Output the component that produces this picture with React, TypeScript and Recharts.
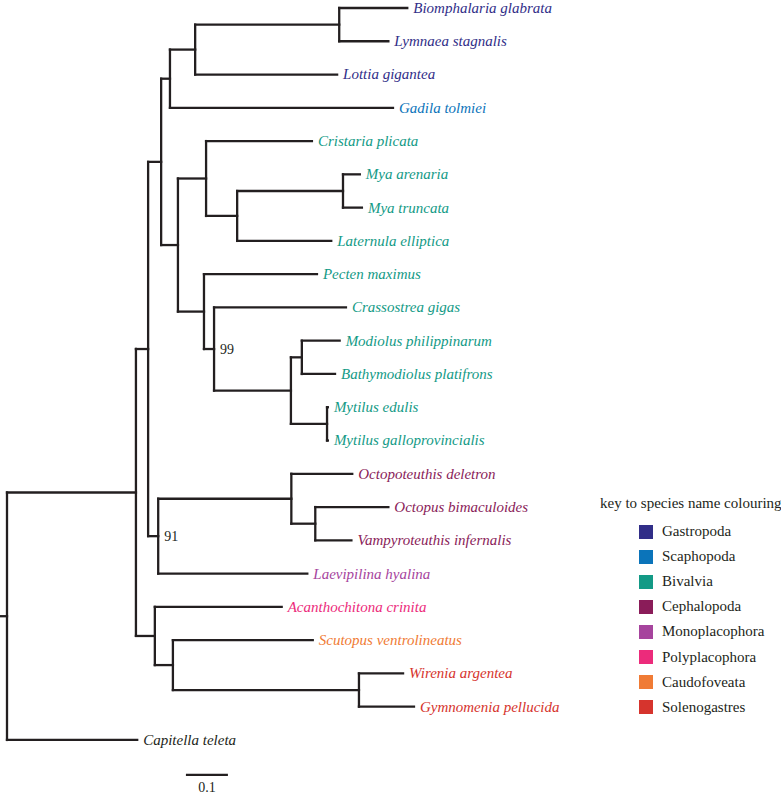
import { ComposedChart, XAxis, YAxis, ReferenceLine, Scatter } from "recharts";

// tips, top to bottom
const species = [
  "Biomphalaria glabrata",
  "Lymnaea stagnalis",
  "Lottia gigantea",
  "Gadila tolmiei",
  "Cristaria plicata",
  "Mya arenaria",
  "Mya truncata",
  "Laternula elliptica",
  "Pecten maximus",
  "Crassostrea gigas",
  "Modiolus philippinarum",
  "Bathymodiolus platifrons",
  "Mytilus edulis",
  "Mytilus galloprovincialis",
  "Octopoteuthis deletron",
  "Octopus bimaculoides",
  "Vampyroteuthis infernalis",
  "Laevipilina hyalina",
  "Acanthochitona crinita",
  "Scutopus ventrolineatus",
  "Wirenia argentea",
  "Gymnomenia pellucida",
  "Capitella teleta",
];
const speciesGroup = [0, 0, 0, 1, 2, 2, 2, 2, 2, 2, 2, 2, 2, 2, 3, 3, 3, 4, 5, 6, 7, 7, -1];
const tipParent = ["H", "H", "G", "E", "I", "L", "L", "K", "J", "M", "O", "O", "P", "P", "Q", "R", "R", "D", "S", "T", "U", "U", "root"];
const tipBranch = [0.162, 0.117, 0.338, 0.531, 0.252, 0.04, 0.045, 0.224, 0.269, 0.314, 0.09, 0.079, 0.002, 0.002, 0.145, 0.174, 0.086, 0.355, 0.302, 0.333, 0.105, 0.131, 0.31];

// internal nodes, parents listed before children
const clades = ["root", "A", "B", "C", "D", "E", "F", "G", "H", "I", "J", "K", "L", "M", "N", "O", "P", "Q", "R", "S", "T", "U"];
const cladeParent = ["", "root", "A", "B", "B", "C", "C", "E", "G", "F", "F", "I", "K", "J", "M", "N", "N", "D", "Q", "A", "S", "T"];
const cladeBranch = [0.017, 0.307, 0.029, 0.031, 0.024, 0.021, 0.04, 0.06, 0.343, 0.067, 0.062, 0.074, 0.252, 0.024, 0.183, 0.026, 0.086, 0.317, 0.057, 0.045, 0.043, 0.443];

const supportNodes = ["M", "D"];
const supportValues = [99, 91];

const groups = ["Gastropoda", "Scaphopoda", "Bivalvia", "Cephalopoda", "Monoplacophora", "Polyplacophora", "Caudofoveata", "Solenogastres"];
const groupColors = ["#312e88", "#0b74ba", "#139a86", "#8a1c59", "#a6449d", "#ec2b7b", "#f07b35", "#d6342d"];
const outgroupColor = "#231f20";

const scaleBarLength = 0.1;
const scaleBarStart = 0.426;
const scaleBarRow = 23.05;

const W = 781;
const H = 795;
const pxPerUnit = 420;
const rowPx = 33.27;
const xMin = -7 / pxPerUnit;
const xMax = xMin + W / pxPerUnit;
const yMin = -8 / rowPx;
const yMax = yMin + H / rowPx;

const lineColor = "#231f20";
const serif = "Liberation Serif, DejaVu Serif, Noto Serif, Times, serif";

// layout
const depth: Record<string, number> = {};
clades.forEach((c, i) => {
  depth[c] = i === 0 ? 0 : depth[cladeParent[i]] + cladeBranch[i];
});
const childRows: Record<string, number[]> = {};
clades.forEach((c) => (childRows[c] = []));
const rowOf: Record<string, number> = {};
const cladeRow = (c: string): number => {
  if (rowOf[c] !== undefined) return rowOf[c];
  const ys: number[] = [];
  species.forEach((_, i) => {
    if (tipParent[i] === c) ys.push(i);
  });
  clades.forEach((k, i) => {
    if (cladeParent[i] === c) ys.push(cladeRow(k));
  });
  childRows[c] = ys;
  rowOf[c] = (Math.min(...ys) + Math.max(...ys)) / 2;
  return rowOf[c];
};
clades.forEach((c) => cladeRow(c));

type Seg = { x1: number; y1: number; x2: number; y2: number };
const segments: Seg[] = [];
clades.forEach((c, i) => {
  const y = rowOf[c];
  const from = i === 0 ? -cladeBranch[0] : depth[cladeParent[i]];
  segments.push({ x1: from, y1: y, x2: depth[c], y2: y });
  const ys = childRows[c];
  segments.push({ x1: depth[c], y1: Math.min(...ys), x2: depth[c], y2: Math.max(...ys) });
});
const tipPoints = species.map((name, i) => {
  const x = depth[tipParent[i]] + tipBranch[i];
  segments.push({ x1: depth[tipParent[i]], y1: i, x2: x, y2: i });
  return { x, y: i, name, color: speciesGroup[i] < 0 ? outgroupColor : groupColors[speciesGroup[i]] };
});
const supportPoints = supportNodes.map((c, i) => ({ x: depth[c], y: rowOf[c], name: String(supportValues[i]) }));
const scaleLabel = [{ x: scaleBarStart + scaleBarLength / 2, y: scaleBarRow, name: String(scaleBarLength) }];

const TipLabel = (props: any) => (
  <text x={props.cx + 6} y={props.cy} dy="0.33em" style={{ fontFamily: serif, fontStyle: "italic", fontSize: 15 }} fill={props.payload.color}>
    {props.payload.name}
  </text>
);
const SupportLabel = (props: any) => (
  <text x={props.cx + 6} y={props.cy} dy="0.33em" style={{ fontFamily: serif, fontSize: 14 }} fill={lineColor}>
    {props.payload.name}
  </text>
);
const ScaleLabel = (props: any) => (
  <text x={props.cx} y={props.cy + 13} dy="0.33em" textAnchor="middle" style={{ fontFamily: serif, fontSize: 14 }} fill={lineColor}>
    {props.payload.name}
  </text>
);

export default function App() {
  return (
    <div style={{ position: "relative", width: W, height: H, background: "#fff", fontFamily: serif }}>
      <style>{"body{margin:0}"}</style>
      <ComposedChart width={W} height={H} margin={{ top: 0, right: 0, bottom: 0, left: 0 }}>
        <XAxis type="number" dataKey="x" domain={[xMin, xMax]} allowDataOverflow hide />
        <YAxis type="number" dataKey="y" domain={[yMin, yMax]} allowDataOverflow reversed hide />
        {segments.map((s, i) => (
          <ReferenceLine
            key={i}
            segment={[{ x: s.x1, y: s.y1 }, { x: s.x2, y: s.y2 }]}
            stroke={lineColor}
            strokeWidth={2.3}
            strokeLinecap="square"
            ifOverflow="visible"
          />
        ))}
        <ReferenceLine
          segment={[{ x: scaleBarStart, y: scaleBarRow }, { x: scaleBarStart + scaleBarLength, y: scaleBarRow }]}
          stroke={lineColor}
          strokeWidth={2.3}
          ifOverflow="visible"
        />
        <Scatter data={tipPoints} isAnimationActive={false} shape={TipLabel} />
        <Scatter data={supportPoints} isAnimationActive={false} shape={SupportLabel} />
        <Scatter data={scaleLabel} isAnimationActive={false} shape={ScaleLabel} />
      </ComposedChart>
      <div style={{ position: "absolute", left: 600, top: 493, color: lineColor, whiteSpace: "nowrap" }}>
        <div style={{ fontSize: 15, lineHeight: "20px", marginBottom: 6 }}>key to species name colouring</div>
        {groups.map((g, i) => (
          <div key={g} style={{ display: "flex", alignItems: "center", height: 25.1, marginLeft: 39, fontSize: 15 }}>
            <span style={{ width: 14, height: 14, background: groupColors[i], marginRight: 9 }} />
            {g}
          </div>
        ))}
      </div>
    </div>
  );
}
